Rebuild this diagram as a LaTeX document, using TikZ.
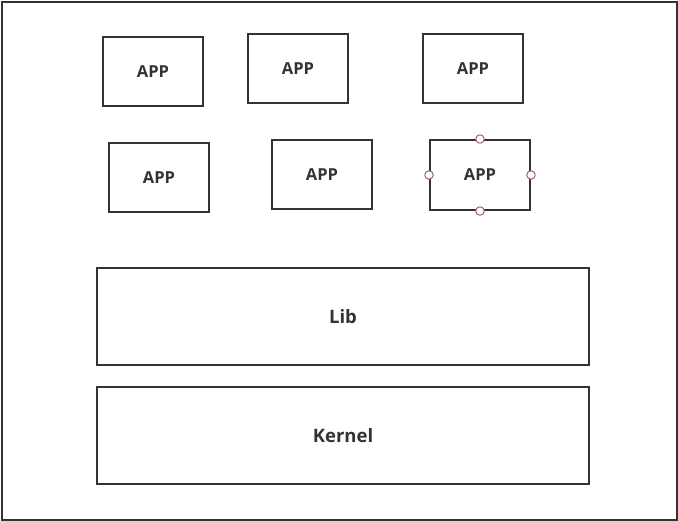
\documentclass[tikz,border=0pt]{standalone}
\usepackage{fontspec}
\setmainfont{Open Sans}
\definecolor{ink}{HTML}{333333}
\definecolor{handle}{HTML}{9A5A5A}
\begin{document}
\begin{tikzpicture}[x=1pt,y=-1pt,
  box/.style={draw=ink,line width=2pt,inner sep=0pt,anchor=north west},
  applbl/.style={font=\fontsize{16.5}{20}\selectfont\bfseries,text=ink},
  biglbl/.style={font=\fontsize{18.5}{22}\selectfont\bfseries,text=ink},
  hdl/.style={circle,draw=handle,fill=white,line width=0.9pt,minimum size=8.5pt,inner sep=0pt}]
\useasboundingbox (0,0) rectangle (678,521);
\node[draw=ink,line width=2pt,minimum width=675pt,minimum height=518pt,inner sep=0pt,anchor=north west] (frame) at (1,1) {};
\node[box,minimum width=100pt,minimum height=69pt] (a1) at (102,36) {};
\node[applbl] at (a1.center) {APP};
\node[box,minimum width=100pt,minimum height=69pt] (a2) at (247,33) {};
\node[applbl] at (a2.center) {APP};
\node[box,minimum width=100pt,minimum height=69pt] (a3) at (422,33) {};
\node[applbl] at (a3.center) {APP};
\node[box,minimum width=100pt,minimum height=69pt] (a4) at (108,142) {};
\node[applbl] at (a4.center) {APP};
\node[box,minimum width=100pt,minimum height=69pt] (a5) at (271,139) {};
\node[applbl] at (a5.center) {APP};
\node[box,minimum width=100pt,minimum height=70pt] (a6) at (429,139) {};
\node[applbl] at (a6.center) {APP};
\node[hdl] (h1) at (a6.north) {};
\node[hdl] (h2) at (a6.east) {};
\node[hdl] (h3) at (a6.south) {};
\node[hdl] (h4) at (a6.west) {};
\node[box,minimum width=492pt,minimum height=97pt] (lib) at (96,267) {};
\node[biglbl] at (lib.center) {Lib};
\node[box,minimum width=492pt,minimum height=97pt] (kernel) at (96,386) {};
\node[biglbl] at (kernel.center) {Kernel};
\end{tikzpicture}
\end{document}
